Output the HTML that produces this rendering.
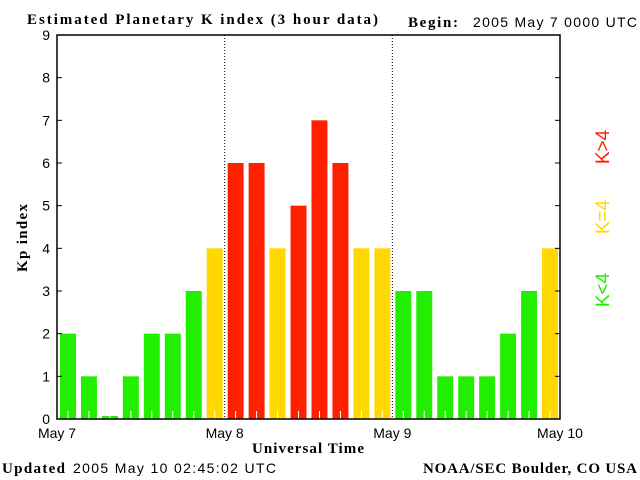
<!DOCTYPE html>
<html><head><meta charset="utf-8"><style>
body{margin:0;background:#fff;width:640px;height:480px;overflow:hidden}
svg{display:block}
.s{font-family:"Liberation Sans",sans-serif;font-size:14px;fill:#000}
.b{font-family:"Liberation Serif",serif;font-weight:bold;font-size:15px;fill:#000}
</style></head><body>
<svg id="c" width="640" height="480">
<text class="b" x="27" y="24" textLength="351" lengthAdjust="spacing">Estimated Planetary K index (3 hour data)</text>
<text class="b" x="408" y="27" textLength="50">Begin:</text>
<text class="s" x="473" y="27" textLength="164">2005 May 7 0000 UTC</text>
<text class="b" transform="translate(27,238) rotate(-90)" text-anchor="middle" textLength="68">Kp index</text>
<text class="b" x="252" y="453" textLength="112">Universal Time</text>
<text class="b" x="2" y="473" textLength="63">Updated</text>
<text class="s" x="73" y="473" textLength="203">2005 May 10 02:45:02 UTC</text>
<text class="b" x="423" y="473" textLength="214">NOAA/SEC Boulder, CO USA</text>
<text class="s" style="font-size:19px;fill:#22ee00" transform="translate(609,290) rotate(-90)" text-anchor="middle">K&lt;4</text>
<text class="s" style="font-size:19px;fill:#ffd800" transform="translate(609,217) rotate(-90)" text-anchor="middle">K=4</text>
<text class="s" style="font-size:19px;fill:#ff2000" transform="translate(609,147) rotate(-90)" text-anchor="middle">K&gt;4</text>
<g id="marks"></g>
</svg>
<script>
const kpValues=[2,1,0,1,2,2,3,4,6,6,4,5,7,6,4,4,3,3,1,1,1,2,3,4];
const yTicks=[0,1,2,3,4,5,6,7,8,9];
const dayLabels=["May 7","May 8","May 9","May 10"];
const NS="http://www.w3.org/2000/svg";
const L=57,R=560,T=35,B=419;
const y=v=>B-(v/9)*(B-T);
const slot=(R-L)/kpValues.length;
const x=i=>L+i*slot;
const g=document.getElementById('marks');
function mk(t,a){const e=document.createElementNS(NS,t);for(const k in a)e.setAttribute(k,a[k]);g.appendChild(e);return e;}
kpValues.forEach((v,i)=>{
  const col=v<4?'#22ee00':(v==4?'#ffd800':'#ff2000');
  const top=v==0?B-3:y(v);
  const r=mk('rect',{x:x(i)+3,y:top,width:slot-5,height:B-top,fill:col});
  
  
  const t=mk('line',{x1:x(i)+slot/2+0.5,x2:x(i)+slot/2+0.5,y1:B-8,y2:B,stroke:'#fff','stroke-width':1});
  
  
});
for(let d=1;d<dayLabels.length-1;d++){
  const xx=L+d*8*slot;
  const l=mk('line',{x1:xx,x2:xx,y1:T,y2:B,stroke:'#000','stroke-dasharray':'1,2'});
  
  
}
dayLabels.forEach((s,d)=>{
  const t=mk('text',{x:L+d*8*slot,y:438,'text-anchor':'middle',class:'s'});
  t.textContent=s;
  
  
});
yTicks.forEach(v=>{
  const t=mk('text',{x:50,y:y(v)+5,'text-anchor':'end',class:'s'});
  t.textContent=v;
  
  
  const a=mk('line',{x1:L,x2:L+5,y1:y(v),y2:y(v),stroke:'#000'});
  
  
  const b=mk('line',{x1:R-5,x2:R,y1:y(v),y2:y(v),stroke:'#000'});
  
  
});
const f=mk('rect',{x:L,y:T,width:R-L,height:B-T,fill:'none',stroke:'#000','stroke-width':1.5});


</script>
</body></html>
